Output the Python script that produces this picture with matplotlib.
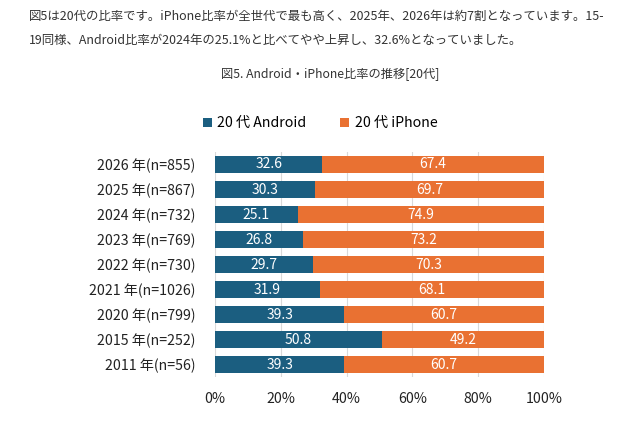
import numpy as np
import matplotlib
matplotlib.use("Agg")
import matplotlib.pyplot as plt

plt.rcParams['font.family'] = ['Noto Sans CJK JP', 'DejaVu Sans']

years = ['2026 年(n=855)', '2025 年(n=867)', '2024 年(n=732)', '2023 年(n=769)',
         '2022 年(n=730)', '2021 年(n=1026)', '2020 年(n=799)', '2015 年(n=252)',
         '2011 年(n=56)']
android = [32.6, 30.3, 25.1, 26.8, 29.7, 31.9, 39.3, 50.8, 39.3]
iphone = [67.4, 69.7, 74.9, 73.2, 70.3, 68.1, 60.7, 49.2, 60.7]

blue = '#1B5E80'
orange = '#E97132'

fig = plt.figure(figsize=(6.4, 4.33), dpi=100)
fig.text(0.045, 0.963, '図5は20代の比率です。iPhone比率が全世代で最も高く、2025年、2026年は約7割となっています。15-',
         fontsize=8.95, color='#333333', va='center')
fig.text(0.045, 0.907, '19同様、Android比率が2024年の25.1%と比べてやや上昇し、32.6%となっていました。',
         fontsize=8.95, color='#333333', va='center')
fig.text(0.516, 0.827, '図5. Android・iPhone比率の推移[20代]', fontsize=8.8, color='#333333',
         ha='center', va='center')

ax = fig.add_axes([0.336, 0.129, 0.514, 0.52])
y = np.arange(len(years))
ax.barh(y, android, height=0.68, color=blue, label='20 代 Android', zorder=2)
ax.barh(y, iphone, left=android, height=0.68, color=orange, label='20 代 iPhone', zorder=2)

for i in range(len(years)):
    ax.text(android[i] / 2, y[i], f'{android[i]:.1f}', ha='center', va='center',
            color='white', fontsize=10)
    ax.text(android[i] + iphone[i] / 2, y[i], f'{iphone[i]:.1f}', ha='center', va='center',
            color='white', fontsize=10)

ax.set_xlim(0, 100)
ax.set_ylim(len(years) - 0.5, -0.5)
ax.set_yticks(y)
ax.set_yticklabels(years, fontsize=10.2, color='#222222')
ax.set_xticks([0, 20, 40, 60, 80, 100])
ax.set_xticklabels(['0%', '20%', '40%', '60%', '80%', '100%'], fontsize=10.2, color='#222222')
ax.tick_params(length=0)
ax.tick_params(axis='x', pad=11)
ax.tick_params(axis='y', pad=14)
ax.grid(axis='x', color='#D9D9D9', linewidth=0.8, zorder=0)
for s in ax.spines.values():
    s.set_visible(False)

ax.legend(loc='lower center', bbox_to_anchor=(0.32, 1.04), ncol=2, frameon=False,
          fontsize=10.2, handlelength=0.6, handleheight=0.6, columnspacing=2.4, handletextpad=0.4)

plt.savefig('out.png', dpi=100)
